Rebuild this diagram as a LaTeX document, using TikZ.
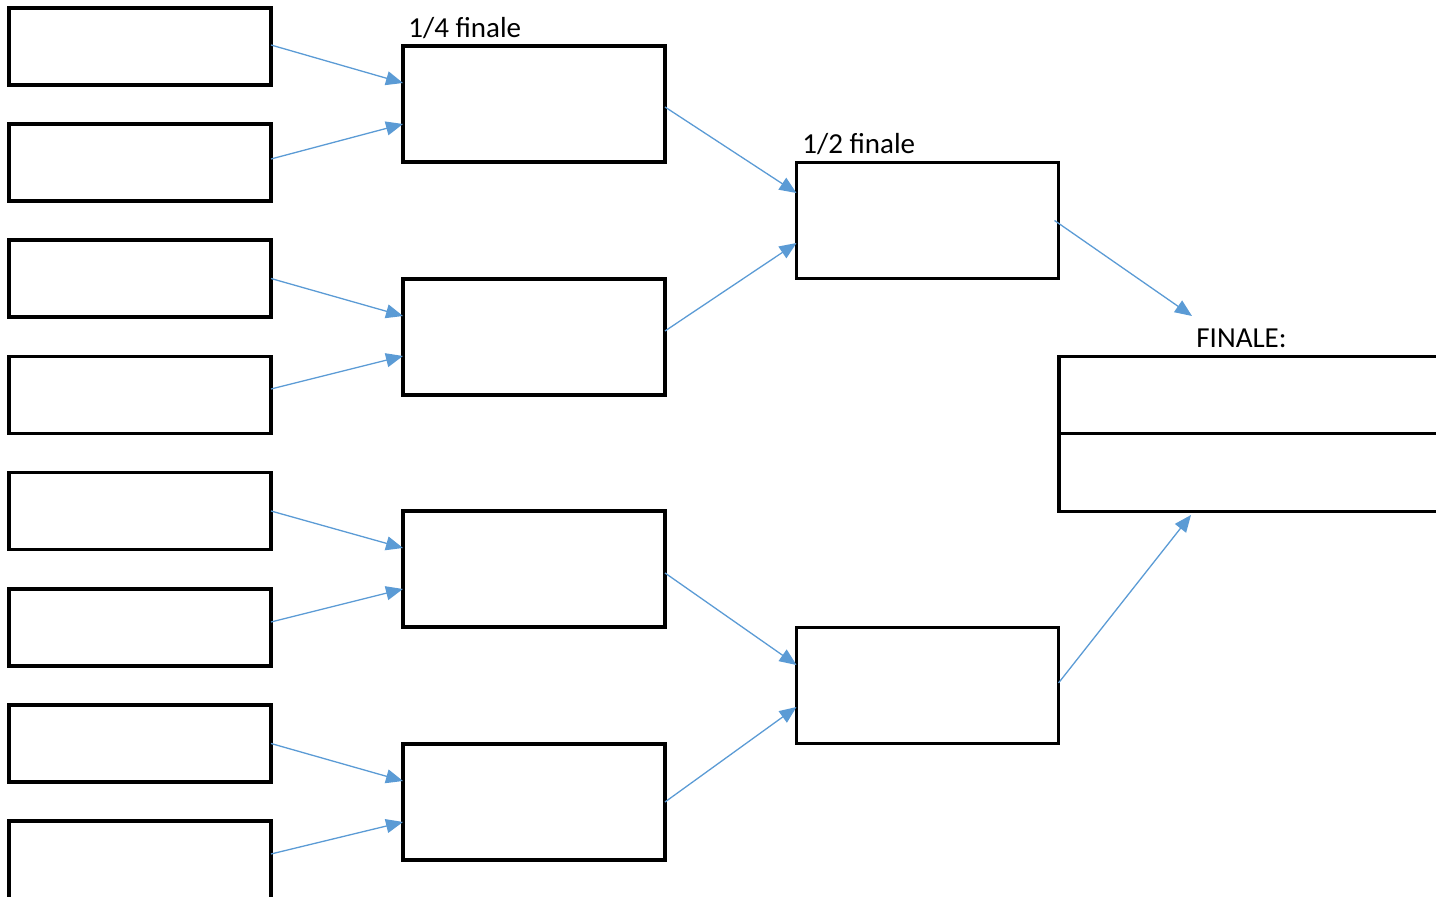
\documentclass[tikz,border=0pt]{standalone}
\usepackage{fontspec}
\setmainfont{Carlito}
\usetikzlibrary{arrows.meta}
\definecolor{arrowblue}{HTML}{5B9BD5}
\begin{document}
\begin{tikzpicture}[x=0.5pt,y=-0.5pt,
  entrybox/.style={draw=black,line width=1.6pt,fill=white,rectangle,inner sep=0pt,outer sep=0pt,minimum width=131pt,minimum height=38.5pt},
  roundbox/.style={draw=black,line width=1.6pt,fill=white,rectangle,inner sep=0pt,outer sep=0pt,minimum width=131pt,minimum height=58pt},
  finalbox/.style={draw=black,line width=1.6pt,fill=white,rectangle,inner sep=0pt,outer sep=0pt,minimum width=205.5pt,minimum height=38.75pt},
  lbl/.style={inner sep=0pt,anchor=base west,font=\fontsize{14.5pt}{17pt}\selectfont},
  link/.style={draw=arrowblue,line width=0.65pt,-{Triangle[length=8.5pt,width=7pt]}}
]
\useasboundingbox (0,0) rectangle (1436,897);
% first round
\node[entrybox] (e1) at (140,46.5) {};
\node[entrybox] (e2) at (140,162.5) {};
\node[entrybox] (e3) at (140,278.5) {};
\node[entrybox] (e4) at (140,395) {};
\node[entrybox] (e5) at (140,511) {};
\node[entrybox] (e6) at (140,627.5) {};
\node[entrybox] (e7) at (140,743.5) {};
\node[entrybox,minimum height=55pt] (e8) at (140,876) {};
% quarter finals
\node[roundbox] (q1) at (534,104) {};
\node[roundbox] (q2) at (534,337) {};
\node[roundbox] (q3) at (534,569) {};
\node[roundbox] (q4) at (534,802) {};
% semi finals
\node[roundbox] (s1) at (927.5,220.5) {};
\node[roundbox] (s2) at (927.5,685.5) {};
% final
\node[finalbox] (f1) at (1264.5,395) {};
\node[finalbox] (f2) at (1264.5,472.5) {};
% labels
\node[lbl] (l1) at (408,38) {1/4 finale};
\node[lbl] (l2) at (802,154) {1/2 finale};
\node[lbl] (l3) at (1196,348) {FINALE:};
% free ends
\coordinate (fe1) at (1192,316);
\coordinate (fe2) at (1191,515);
% arrows round 1
\draw[link] ([yshift=0.75pt]e1.east) -- ([yshift=10.5pt]q1.west);
\draw[link] ([yshift=1.75pt]e2.east) -- ([yshift=-10pt]q1.west);
\draw[link] ([yshift=0pt]e3.east) -- ([yshift=10.5pt]q2.west);
\draw[link] ([yshift=3pt]e4.east) -- ([yshift=-9.5pt]q2.west);
\draw[link] ([yshift=0pt]e5.east) -- ([yshift=10.5pt]q3.west);
\draw[link] ([yshift=2.75pt]e6.east) -- ([yshift=-10pt]q3.west);
\draw[link] ([yshift=0pt]e7.east) -- ([yshift=10.5pt]q4.west);
\draw[link] ([yshift=11pt]e8.east) -- ([yshift=-10pt]q4.west);
% arrows round 2
\draw[link] ([yshift=-1.5pt]q1.east) -- ([yshift=13.75pt]s1.west);
\draw[link] ([yshift=3pt]q2.east) -- ([yshift=-11.25pt]s1.west);
\draw[link] ([yshift=-2pt]q3.east) -- ([yshift=10.25pt]s2.west);
\draw[link] ([yshift=0pt]q4.east) -- ([yshift=-10.75pt]s2.west);
% arrows round 3
\draw[link] ([xshift=-2pt]s1.east) -- (fe1);
\draw[link] ([yshift=1.25pt]s2.east) -- (fe2);
\end{tikzpicture}
\end{document}
